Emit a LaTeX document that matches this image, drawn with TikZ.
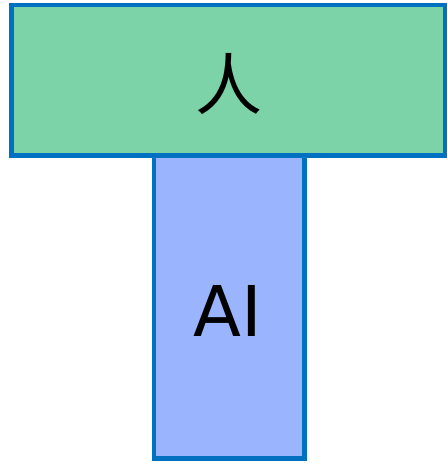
\documentclass[tikz,border=0pt]{standalone}
\usepackage{fontspec}
\setmainfont{DejaVu Sans}
\newfontfamily\cjk{Noto Sans CJK SC}
\definecolor{edgeblue}{HTML}{0070C0}
\definecolor{topgreen}{HTML}{7BD3A7}
\definecolor{lowblue}{HTML}{9AB4FE}
\begin{document}
\begin{tikzpicture}[x=1pt,y=-1pt,
  boxstyle/.style={draw=edgeblue,line width=4.5pt}]
\useasboundingbox (0,0) rectangle (447,464);
\filldraw[boxstyle,fill=lowblue] (154,150) rectangle (304.5,458.5);
\filldraw[boxstyle,fill=topgreen] (11.3,4.8) rectangle (445,155.5);
\node[inner sep=0pt] (ren) at (229,84) {\fontsize{67}{67}\selectfont\cjk 人};
\node[inner sep=0pt,anchor=base] (ai) at (228,336.7) {\fontsize{70}{70}\selectfont AI};
\end{tikzpicture}
\end{document}
